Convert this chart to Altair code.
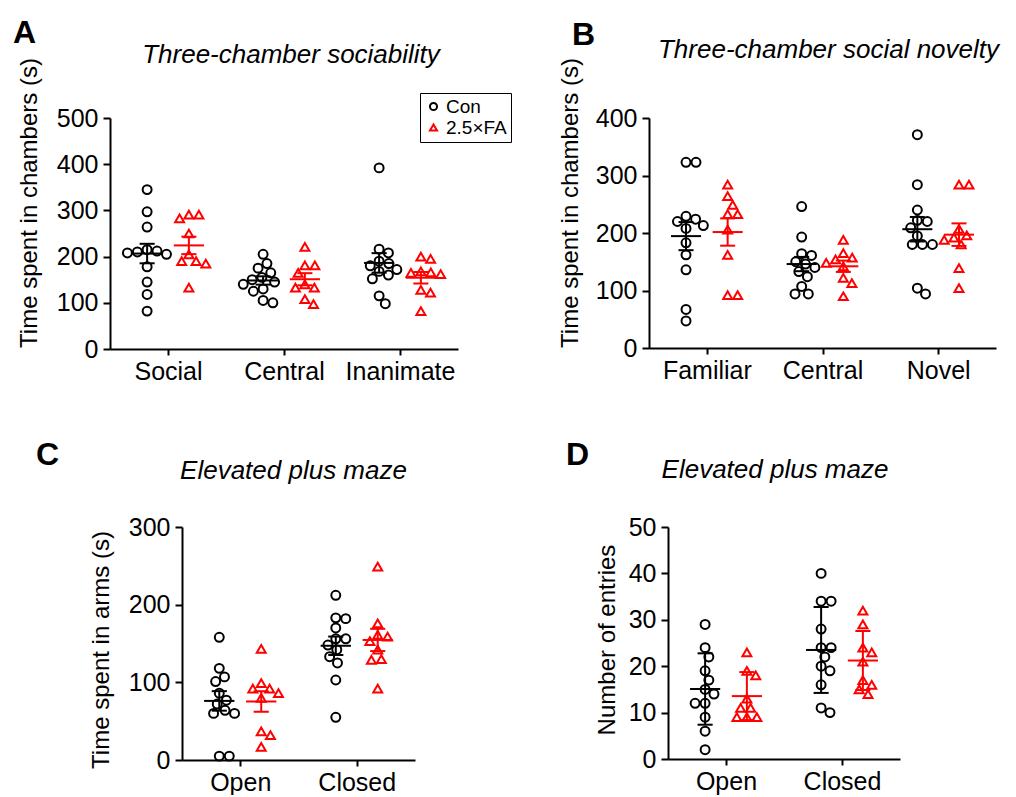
import altair as alt
import pandas as pd

FONT = "Liberation Sans"
GROUPS = ["Con", "2.5×FA"]
COLORS = ["#000000", "#ff0000"]
SHAPES = ["circle", "triangle-up"]

# ---------------- data ----------------
A_cats = ["Social", "Central", "Inanimate"]
A_con = [[345, 297, 264, 215, 212, 210, 208, 205, 178, 145, 118, 82],
         [205, 185, 175, 165, 155, 150, 145, 140, 130, 125, 105, 100],
         [392, 216, 208, 190, 185, 180, 172, 168, 160, 152, 115, 98]]
A_fa = [[291, 291, 283, 250, 205, 190, 190, 185, 133],
        [221, 181, 181, 165, 140, 133, 133, 108, 97],
        [200, 195, 168, 166, 165, 162, 128, 122, 82]]

B_cats = ["Familiar", "Central", "Novel"]
B_con = [[323, 323, 229, 224, 220, 213, 208, 183, 162, 136, 67, 47],
         [246, 193, 164, 161, 150, 146, 140, 133, 124, 107, 94, 94],
         [371, 284, 240, 222, 220, 209, 195, 180, 180, 180, 104, 94]]
B_fa = [[284, 264, 249, 233, 233, 206, 162, 92, 92],
        [188, 165, 157, 154, 148, 142, 122, 113, 90],
        [284, 284, 207, 196, 192, 188, 180, 139, 104]]

C_cats = ["Open", "Closed"]
C_con = [[158, 118, 107, 101, 86, 77, 72, 64, 60, 60, 5, 5],
         [212, 183, 182, 170, 156, 156, 148, 142, 133, 125, 103, 55]]
C_fa = [[143, 99, 92, 92, 86, 80, 37, 32, 17],
        [249, 176, 161, 159, 153, 142, 130, 129, 92]]

D_cats = ["Open", "Closed"]
D_con = [[29, 24, 22, 19, 17, 15, 14, 12, 12, 9, 6, 2],
         [40, 34, 34, 28, 24, 24, 22, 20, 19, 16, 11, 10]]
D_fa = [[23, 19, 18, 13, 11, 11, 9, 9, 9],
        [32, 29, 24, 23, 21, 17, 16, 15, 14]]


def swarm(vals, ppu_x, ppu_y, d=10.0):
    """Simple beeswarm: horizontal offsets (in x units) so markers do not overlap."""
    placed = []
    offs = [0.0] * len(vals)
    order = sorted(range(len(vals)), key=lambda i: -vals[i])
    for i in order:
        y = vals[i] * ppu_y
        forb = []
        for px, py in placed:
            dy = abs(y - py)
            if dy < d:
                dx = (d * d - dy * dy) ** 0.5
                forb.append((px - dx, px + dx))
        cands = [0.0] + [a for iv in forb for a in iv]
        cands.sort(key=lambda c: (abs(c), -c))
        chosen = 0.0
        for c in cands:
            if all(not (lo + 1e-6 < c < hi - 1e-6) for lo, hi in forb):
                chosen = c
                break
        placed.append((chosen, y))
        offs[i] = chosen / ppu_x
    return offs


def panel(cats, con, fa, W, H, ymax, ystep, ytitle, yt_x, yt_y, letter,
          lx, ly, tdx, tly, title, extent, legend=None, inset=0):
    n = len(cats)
    ppu_x = W / n
    ppu_y = H / ymax
    rows = []
    for gi, series in enumerate([con, fa]):
        for ci, vals in enumerate(series):
            offs = swarm(vals, ppu_x, ppu_y)
            for v, o in zip(vals, offs):
                rows.append({"ci": ci, "gi": gi, "group": GROUPS[gi], "value": v,
                             "x": ci + (gi - 0.5) * 0.36 + o})
    df = pd.DataFrame(rows)

    if inset:
        xscale = alt.Scale(domain=[-0.5, n - 0.5], nice=False, zero=False,
                           range=[inset, inset + W])
    else:
        xscale = alt.Scale(domain=[-0.5, n - 0.5], nice=False, zero=False)
    yscale = alt.Scale(domain=[0, ymax], nice=False)
    label_expr = "[" + ",".join("'%s'" % c for c in cats) + "][datum.value]"
    xaxis = alt.Axis(values=list(range(n)), labelExpr=label_expr, title=None,
                     tickSize=6, labelPadding=4, labelFlush=False, labelOverlap=False)
    yaxis = alt.Axis(values=list(range(0, ymax + 1, ystep)), title=None,
                     tickSize=7, labelPadding=5, labelOverlap=False, offset=-inset)
    cscale = alt.Scale(domain=GROUPS, range=COLORS)
    sscale = alt.Scale(domain=GROUPS, range=SHAPES)

    base = alt.Chart(df)
    pts = base.mark_point(filled=False, size=80, strokeWidth=2, opacity=1).encode(
        x=alt.X("x:Q", scale=xscale, axis=xaxis),
        y=alt.Y("value:Q", scale=yscale, axis=yaxis),
        color=alt.Color("group:N", scale=cscale, legend=legend),
        shape=alt.Shape("group:N", scale=sscale, legend=legend),
    )

    stats = base.transform_aggregate(
        m="mean(value)", e=f"{extent}(value)", groupby=["ci", "gi", "group"]
    ).transform_calculate(
        xc="datum.ci + (datum.gi - 0.5) * 0.36",
    ).transform_calculate(
        lo="datum.m - datum.e", hi="datum.m + datum.e",
        ml="datum.xc - 0.13", mr="datum.xc + 0.13",
        cl="datum.xc - 0.065", cr="datum.xc + 0.065",
    )
    col = alt.Color("group:N", scale=cscale, legend=None)
    mean_line = stats.mark_rule(strokeWidth=2).encode(
        x=alt.X("ml:Q", scale=xscale, axis=xaxis), x2="mr:Q",
        y=alt.Y("m:Q", scale=yscale, axis=yaxis), color=col)
    err = stats.mark_rule(strokeWidth=2).encode(
        x=alt.X("xc:Q", scale=xscale, axis=xaxis),
        y=alt.Y("lo:Q", scale=yscale, axis=yaxis), y2="hi:Q", color=col)
    cap_lo = stats.mark_rule(strokeWidth=2).encode(
        x=alt.X("cl:Q", scale=xscale, axis=xaxis), x2="cr:Q",
        y=alt.Y("lo:Q", scale=yscale, axis=yaxis), color=col)
    cap_hi = stats.mark_rule(strokeWidth=2).encode(
        x=alt.X("cl:Q", scale=xscale, axis=xaxis), x2="cr:Q",
        y=alt.Y("hi:Q", scale=yscale, axis=yaxis), color=col)

    tdf = pd.DataFrame({"letter": [letter], "title": [title], "ytitle": [ytitle]})
    letter_txt = alt.Chart(tdf).mark_text(
        font=FONT, fontSize=32, fontWeight="bold", align="left",
        baseline="alphabetic", color="black").encode(
        text="letter:N", x=alt.value(inset + lx), y=alt.value(ly))
    title_txt = alt.Chart(tdf).mark_text(
        font=FONT, fontSize=26, fontStyle="italic", align="center",
        baseline="alphabetic", color="black").encode(
        text="title:N", x=alt.value(inset + W / 2 + tdx), y=alt.value(tly))
    ytitle_txt = alt.Chart(tdf).mark_text(
        font=FONT, fontSize=24, angle=270, align="center",
        baseline="middle", color="black").encode(
        text="ytitle:N", x=alt.value(inset + yt_x), y=alt.value(yt_y))
    layers = [pts, mean_line, err, cap_lo, cap_hi, letter_txt, title_txt, ytitle_txt]
    return alt.layer(*layers).properties(width=W + inset, height=H)


legA = alt.Legend(orient="none", legendX=310, legendY=-25, title=None,
                  strokeColor="black", padding=4, labelFont=FONT, labelFontSize=19,
                  labelColor="black", symbolSize=50, symbolStrokeWidth=2,
                  rowPadding=1, labelOffset=3)

pA = panel(A_cats, A_con, A_fa, 348, 231, 500, 100, "Time spent in chambers (s)",
           -80, 85, "A", -97, -75, 7, -55, "Three-chamber sociability", "stderr",
           legend=legA)
pB = panel(B_cats, B_con, B_fa, 347, 230, 400, 100, "Time spent in chambers (s)",
           -78, 85, "B", -77, -73, 6, -60, "Three-chamber social novelty", "stderr")
pC = panel(C_cats, C_con, C_fa, 233, 233, 300, 100, "Time spent in arms (s)",
           -80, 123, "C", -146, -62, -5, -48, "Elevated plus maze", "stderr",
           inset=72)
pD = panel(D_cats, D_con, D_fa, 232, 232, 50, 10, "Number of entries",
           -60, 113, "D", -102, -62, -9, -49, "Elevated plus maze", "stdev")

top = alt.hconcat(pA, pB, spacing=46).resolve_scale(color="independent", shape="independent")
bottom = alt.hconcat(pC, pD, spacing=151).resolve_scale(color="independent", shape="independent")
chart = alt.vconcat(top, bottom, spacing=55).resolve_scale(
    color="independent", shape="independent"
).properties(
    padding={"left": 5, "top": 9, "right": 3, "bottom": 0}
).configure_view(stroke=None).configure_axis(
    domainColor="black", domainWidth=2, tickColor="black", tickWidth=2,
    labelColor="black", labelFont=FONT, labelFontSize=25,
    grid=False,
)

chart.save("out.html", embed_options={"renderer": "svg", "actions": False})
